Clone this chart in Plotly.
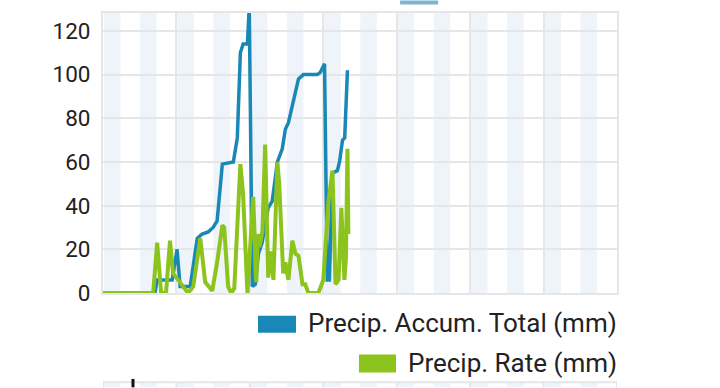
import plotly.graph_objects as go

# ---- data (hours from start of the chart window) ----
series_names = ["Precip. Accum. Total (mm)", "Precip. Rate (mm)"]

accum_hours = [0, 17.0, 17.7, 22.6, 24.2, 25.2, 28.5, 30.8, 32.4, 34.4, 36.0, 37.3,
               39.0, 42.6, 43.9, 44.9, 45.8, 47.2, 47.8, 48.8, 49.8, 50.8, 52.0,
               54.0, 55.3, 57.0, 58.6, 59.6, 60.6, 63.9, 65.5, 70.0, 71.0, 72.4,
               73.3, 74.0, 75.0, 76.6, 77.3, 78.3, 79.0, 79.9]
accum_total = [0, 0, 6, 6, 20, 3, 3, 25, 27, 28, 30, 33,
               59, 60, 71, 110, 114, 114, 131, 3, 4, 18, 23,
               39, 42, 60, 66, 75, 78, 98, 100, 100, 101, 105,
               6, 6, 55, 56, 60, 70, 71, 102]

rate_hours = [0, 16.4, 17.7, 19.0, 20.6, 21.9, 22.9, 25.2, 27.8, 29.5, 31.8, 33.4,
              35.7, 37.3, 39.0, 39.6, 40.9, 41.9, 42.9, 44.9, 45.8, 47.2, 47.8,
              49.1, 50.1, 50.6, 51.1, 52.1, 53.0, 54.0, 54.7, 55.7, 57.0, 57.6,
              58.9, 59.6, 60.6, 61.9, 62.9, 63.9, 65.2, 66.1, 67.1, 70.4, 72.0,
              73.7, 75.0, 76.0, 77.0, 77.9, 78.9, 79.4, 79.9, 80.2]
precip_rate = [0, 0, 23, 0, 0, 24, 9, 5, 0, 3, 25, 5,
               1, 14, 31, 30, 3, 0, 2, 59, 45, 0, 15,
               44, 5, 27, 21, 28, 68, 7, 19, 6, 60, 50,
               9, 14, 6, 24, 18, 17, 4, 4, 0, 0, 6,
               42, 56, 4, 6, 39, 6, 16, 66, 27]

y_ticks = [0, 20, 40, 60, 80, 100, 120]
day_edges = [0, 24, 48, 72, 96, 120, 144, 168]

BLUE = "#1a88b6"
GREEN = "#8cc31c"
GRID = "#e4e6e8"
BAND = "#eef4fa"
FONT = "Roboto"

fig = go.Figure()
fig.add_trace(go.Scatter(x=accum_hours, y=accum_total, mode="lines", name=series_names[0],
                         line=dict(color=BLUE, width=3.5), showlegend=False))
fig.add_trace(go.Scatter(x=rate_hours, y=precip_rate, mode="lines", name=series_names[1],
                         line=dict(color=GREEN, width=4), showlegend=False))

shapes = []
# light blue bands inside the plot
for d in day_edges[:-1]:
    for s in (0.3, 12.1):
        shapes.append(dict(type="rect", xref="x", yref="paper", x0=d + s, x1=d + s + 5.4,
                           y0=0, y1=1, fillcolor=BAND, line=dict(width=0), layer="below"))
# next chart peeking at the bottom
for d in day_edges[:-1]:
    for s in (0.3, 12.1):
        shapes.append(dict(type="rect", xref="x", yref="paper", x0=d + s, x1=d + s + 5.4,
                           y0=-0.337, y1=-0.319, fillcolor=BAND, line=dict(width=0)))
shapes.append(dict(type="line", xref="paper", yref="paper", x0=0, x1=1, y0=-0.319, y1=-0.319,
                   line=dict(color=GRID, width=2)))
for d in day_edges:
    shapes.append(dict(type="line", xref="x", yref="paper", x0=d, x1=d, y0=-0.337, y1=-0.319,
                       line=dict(color=GRID, width=2)))
shapes.append(dict(type="line", xref="x", yref="paper", x0=9.8, x1=9.8, y0=-0.337, y1=-0.307,
                   line=dict(color="#111111", width=3)))
# top legend swatch of a chart above (cropped)
shapes.append(dict(type="rect", xref="paper", yref="paper", x0=0.578, x1=0.652, y0=1.030, y1=1.045,
                   fillcolor="#7fb3d0", line=dict(width=0)))
# legend swatches
shapes.append(dict(type="rect", xref="paper", yref="paper", x0=0.3016, x1=0.3755, y0=-0.1418, y1=-0.0816,
                   fillcolor=BLUE, line=dict(width=0)))
shapes.append(dict(type="rect", xref="paper", yref="paper", x0=0.498, x1=0.570, y0=-0.2837, y1=-0.2199,
                   fillcolor=GREEN, line=dict(width=0)))

annotations = [
    dict(text=series_names[0], xref="paper", yref="paper", x=1.004, y=-0.108,
         xanchor="right", yanchor="middle", showarrow=False,
         font=dict(family=FONT, size=26, color="#222222")),
    dict(text=series_names[1], xref="paper", yref="paper", x=1.004, y=-0.250,
         xanchor="right", yanchor="middle", showarrow=False,
         font=dict(family=FONT, size=26, color="#222222")),
]

fig.update_layout(
    width=720, height=388,
    margin=dict(l=103, r=103, t=11, b=95),
    paper_bgcolor="white", plot_bgcolor="white",
    shapes=shapes, annotations=annotations,
    font=dict(family=FONT, color="#222222"),
    showlegend=False,
)
fig.update_xaxes(range=[0, 168], tickvals=day_edges, showticklabels=False,
                 showgrid=True, gridcolor=GRID, gridwidth=2,
                 showline=True, linecolor=GRID, linewidth=2, mirror=True,
                 zeroline=False, ticks="")
fig.update_yaxes(range=[0, 128.2], tickvals=y_ticks, ticktext=[str(v) for v in y_ticks],
                 showgrid=True, gridcolor=GRID, gridwidth=2,
                 showline=True, linecolor=GRID, linewidth=2, mirror=True,
                 zeroline=False, ticks="", ticklabelstandoff=6,
                 tickfont=dict(family=FONT, size=22.5, color="#222222"))

fig.write_html("out.html", config={"displayModeBar": False},
               post_script="document.body.style.margin='0';document.body.style.overflow='hidden';")
